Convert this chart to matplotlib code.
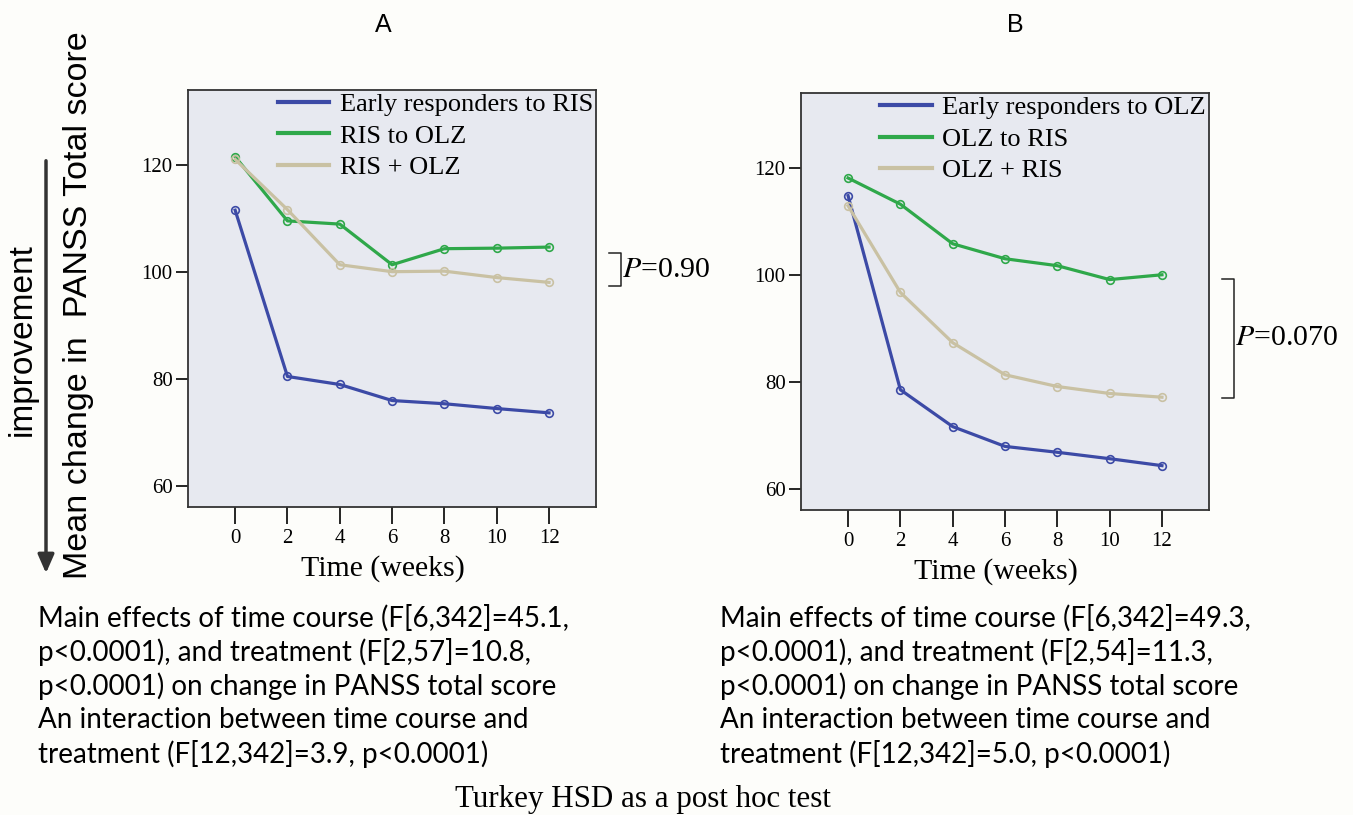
import numpy as np
import matplotlib
matplotlib.use("Agg")
import matplotlib.pyplot as plt

# data
weeks = [0, 2, 4, 6, 8, 10, 12]

a_labels = ["Early responders to RIS", "RIS to OLZ", "RIS + OLZ"]
a_early = [111.5, 80.4, 78.9, 75.9, 75.3, 74.4, 73.6]
a_switch = [121.5, 109.5, 108.9, 101.3, 104.3, 104.4, 104.6]
a_combo = [121.0, 111.6, 101.3, 100.0, 100.1, 98.9, 98.0]

b_labels = ["Early responders to OLZ", "OLZ to RIS", "OLZ + RIS"]
b_early = [114.8, 78.5, 71.6, 67.9, 66.8, 65.6, 64.3]
b_switch = [118.1, 113.2, 105.8, 103.0, 101.7, 99.1, 100.0]
b_combo = [112.9, 96.7, 87.3, 81.3, 79.1, 77.8, 77.1]

yticks = [60, 80, 100, 120]
a_bracket = (97.3, 103.5)
b_bracket = (77.0, 99.3)
a_ptext = "=0.90"
b_ptext = "=0.070"

a_notes = ["Main effects of time course (F[6,342]=45.1,",
           "p<0.0001), and treatment (F[2,57]=10.8,",
           "p<0.0001) on change in PANSS total score",
           "An interaction between time course and",
           "treatment (F[12,342]=3.9, p<0.0001)"]
b_notes = ["Main effects of time course (F[6,342]=49.3,",
           "p<0.0001), and treatment (F[2,54]=11.3,",
           "p<0.0001) on change in PANSS total score",
           "An interaction between time course and",
           "treatment (F[12,342]=5.0, p<0.0001)"]

colors = ["#3c4aa6", "#2fa84a", "#c9c1a3"]
serif = "Liberation Serif"

fig = plt.figure(figsize=(13.53, 8.15), dpi=100)
fig.patch.set_facecolor("#fdfdfa")


def panel(rect, series, labels, bracket, ptext):
    ax = fig.add_axes(rect)
    ax.set_facecolor("#e7e9f0")
    for vals, lab, c in zip(series, labels, colors):
        ax.plot(weeks, vals, color=c, lw=2.3, marker="o", ms=5.5,
                mfc="none", mec=c, mew=1.2, label=lab)
    ax.set_xlim(-1.8, 13.8)
    ax.set_ylim(56, 134)
    ax.set_xticks(weeks)
    ax.set_yticks(yticks)
    for s in ax.spines.values():
        s.set_color("#333333")
        s.set_linewidth(1.3)
    ax.tick_params(axis="y", direction="out", length=9, width=1.2,
                   labelsize=15, pad=2)
    ax.tick_params(axis="x", direction="out", length=12, width=1.2,
                   labelsize=15, pad=4)
    for t in ax.get_xticklabels() + ax.get_yticklabels():
        t.set_fontfamily(serif)
    ax.set_xlabel("Time (weeks)", fontfamily=serif, fontsize=21.5)
    ax.xaxis.set_label_coords(0.477, -0.115)
    leg = ax.legend(loc="upper right", bbox_to_anchor=(1.05, 1.05),
                    frameon=False, handlelength=1.95, handletextpad=0.4,
                    labelspacing=0.3, prop={"family": serif, "size": 19})
    for h in leg.get_lines():
        h.set_marker("")
        h.set_linewidth(3)
    # bracket to the right of the axes
    bx0, bx1 = 14.3, 14.75
    ax.plot([bx0, bx1, bx1, bx0], [bracket[0], bracket[0], bracket[1], bracket[1]],
            color="#222222", lw=1.1, clip_on=False)
    ax.text(bx1 + 0.05, np.mean(bracket), "$\\it{P}$" + ptext, fontfamily=serif,
            fontsize=21.5, va="center", ha="left", clip_on=False,
            math_fontfamily="stix")
    return ax


panel([0.139, 0.378, 0.3016, 0.5117], [a_early, a_switch, a_combo],
      a_labels, a_bracket, a_ptext)
panel([0.592, 0.3742, 0.3016, 0.5117], [b_early, b_switch, b_combo],
      b_labels, b_bracket, b_ptext)

fig.text(383 / 1353, 1 - 25 / 815, "A", fontfamily="Liberation Sans",
         fontsize=18, ha="center", va="center")
fig.text(1015 / 1353, 1 - 25 / 815, "B", fontfamily="Liberation Sans",
         fontsize=18, ha="center", va="center")

fig.text(79 / 1353, 1 - 305 / 815, "Mean change in  PANSS Total score",
         fontfamily="Liberation Sans", fontsize=24.5, rotation=90,
         ha="center", va="center")
fig.text(22 / 1353, 1 - 340 / 815, "improvement",
         fontfamily="Liberation Sans", fontsize=24, rotation=90,
         ha="center", va="center")
fig.add_artist(matplotlib.patches.FancyArrowPatch(
    (46 / 1353, 1 - 158 / 815), (46 / 1353, 1 - 576 / 815),
    transform=fig.transFigure, arrowstyle="-|>,head_length=0.8,head_width=0.35",
    mutation_scale=14, color="#333333", lw=2.5))

for i, line in enumerate(a_notes):
    fig.text(38 / 1353, 1 - (618 + 34 * i) / 815, line, fontfamily="Lato",
             fontsize=20, ha="left", va="center")
for i, line in enumerate(b_notes):
    fig.text(720 / 1353, 1 - (618 + 34 * i) / 815, line, fontfamily="Lato",
             fontsize=20, ha="left", va="center")

fig.text(643 / 1353, 1 - 800 / 815, "Turkey HSD as a post hoc test",
         fontfamily=serif, fontsize=22.3, ha="center", va="center")

fig.savefig("out.png", dpi=100, facecolor=fig.get_facecolor())
